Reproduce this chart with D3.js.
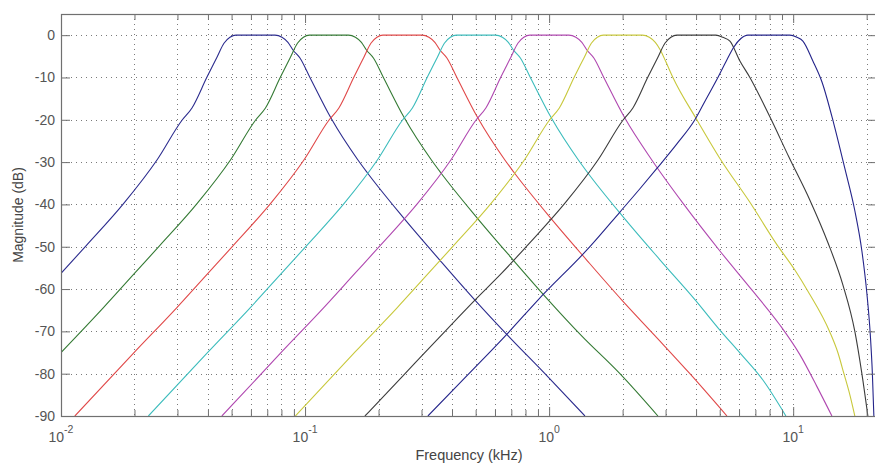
<!DOCTYPE html>
<html>
<head>
<meta charset="utf-8">
<script src="https://cdn.jsdelivr.net/npm/d3@7/dist/d3.min.js"></script>
<style>
  html, body { margin: 0; padding: 0; background: #fff; }
  svg { display: block; }
  text { font-family: "Liberation Sans", Arial, Helvetica, sans-serif; }
</style>
</head>
<body>
<svg id="chart" width="875" height="464"></svg>
<script>
// ---- data (frequency in kHz, magnitude in dB) ----
const band1 = [[0.01,-56.3],[0.01266,-49.8],[0.01811,-39.7],[0.02473,-29.5],[0.03131,-20.1],[0.03441,-17.2],[0.03964,-9.9],[0.04356,-5.2],[0.04653,-1.9],[0.04924,-0.5],[0.05211,0],[0.07528,0],[0.08042,-0.5],[0.0851,-1.7],[0.08922,-3.5],[0.09531,-5.4],[0.1047,-10],[0.1277,-19.6],[0.1647,-29.5],[0.1793,-32.4],[0.2518,-43],[0.357,-53.2],[0.4966,-62.6],[0.678,-71],[0.961,-80],[1.402,-90]];
const band2 = [[0.01,-75],[0.01486,-64.5],[0.02,-56.3],[0.02532,-49.8],[0.03622,-39.7],[0.04946,-29.5],[0.06262,-20.1],[0.06882,-17.2],[0.07928,-9.9],[0.08712,-5.2],[0.09306,-1.9],[0.09848,-0.5],[0.1042,0],[0.1506,0],[0.1608,-0.5],[0.1702,-1.7],[0.1784,-3.5],[0.1906,-5.4],[0.2094,-10],[0.2554,-19.6],[0.3294,-29.5],[0.3586,-32.4],[0.5036,-43],[0.714,-53.2],[0.993,-62.6],[1.356,-71],[1.95,-80],[2.791,-90]];
const band3 = [[0.0114,-90],[0.02009,-74.8],[0.02971,-64.5],[0.04,-56.3],[0.05064,-49.8],[0.07244,-39.7],[0.09892,-29.5],[0.1252,-20.1],[0.1376,-17.2],[0.1586,-9.9],[0.1742,-5.2],[0.1861,-1.9],[0.197,-0.5],[0.2084,0],[0.3011,0],[0.3217,-0.5],[0.3404,-1.7],[0.3569,-3.5],[0.3812,-5.4],[0.4188,-10],[0.5108,-19.6],[0.6588,-29.5],[0.7172,-32.4],[1.007,-43],[1.428,-53.2],[1.986,-62.6],[2.712,-71],[3.774,-80],[5.353,-90]];
const band4 = [[0.02281,-90],[0.04018,-74.8],[0.05942,-64.5],[0.08,-56.3],[0.1013,-49.8],[0.1449,-39.7],[0.1978,-29.5],[0.2505,-20.1],[0.2753,-17.2],[0.3171,-9.9],[0.3485,-5.2],[0.3722,-1.9],[0.3939,-0.5],[0.4169,0],[0.6022,0],[0.6434,-0.5],[0.6808,-1.7],[0.7138,-3.5],[0.7625,-5.4],[0.8376,-10],[1.022,-19.6],[1.318,-29.5],[1.434,-32.4],[2.014,-43],[2.856,-53.2],[3.973,-62.6],[5.009,-69.7],[6.049,-75.1],[7.514,-81.5],[9.335,-90]];
const band5 = [[0.04562,-90],[0.08037,-74.8],[0.1188,-64.5],[0.16,-56.3],[0.2026,-49.8],[0.2898,-39.7],[0.3957,-29.5],[0.501,-20.1],[0.5506,-17.2],[0.6342,-9.9],[0.697,-5.2],[0.7445,-1.9],[0.7878,-0.5],[0.8338,0],[1.204,0],[1.287,-0.5],[1.362,-1.7],[1.428,-3.5],[1.525,-5.4],[1.675,-10],[2.043,-19.6],[2.635,-29.5],[3.533,-39.7],[5.009,-51],[6.837,-60.5],[8.821,-68.5],[10.65,-75.5],[12.5,-83],[14.41,-90]];
const band6 = [[0.09124,-90],[0.1607,-74.8],[0.2377,-64.5],[0.32,-56.3],[0.4051,-49.8],[0.5795,-39.7],[0.7914,-29.5],[1.002,-20.1],[1.101,-17.2],[1.268,-9.9],[1.394,-5.2],[1.489,-1.9],[1.576,-0.5],[1.668,0],[2.409,0],[2.573,-0.5],[2.723,-1.7],[2.855,-3.5],[3.009,-6.3],[3.215,-10],[4.031,-20],[5.056,-29.5],[6.647,-39.5],[8.575,-49.5],[10.16,-55.5],[11.49,-60.5],[14.14,-70.2],[15.24,-75],[16.14,-80],[17.07,-85],[17.89,-90]];
const band7 = [[0.1759,-90],[0.2518,-80.5],[0.347,-72],[0.4966,-62.6],[0.6407,-56.2],[0.811,-49.8],[1.161,-39.7],[1.585,-29.5],[2.006,-20.1],[2.204,-17.2],[2.539,-9.9],[2.791,-5.2],[2.981,-1.9],[3.155,-0.5],[3.338,0],[4.824,0],[5.152,-0.5],[5.505,-1.4],[6.049,-6.1],[6.647,-10],[8.026,-19.3],[9.603,-28.8],[11.71,-39],[13.87,-49],[15.98,-59],[17.89,-70],[19.12,-80],[20.23,-90]];
const band8 = [[0.3187,-90],[0.4693,-80],[0.678,-70.4],[0.8998,-62.6],[1.469,-50],[1.95,-41.8],[2.355,-36.3],[2.764,-31.5],[3.338,-25.7],[3.956,-20],[4.389,-15.2],[4.915,-10],[5.353,-5.8],[5.715,-2.8],[6.106,-0.8],[6.523,0],[9.694,0],[10.36,-0.5],[10.96,-1.4],[12.04,-6.1],[13.11,-11],[14.68,-21],[16.28,-31.5],[17.89,-41.5],[19.12,-51],[20.04,-61],[20.71,-71],[21.11,-80],[21.41,-90]];

const bands = [band1, band2, band3, band4, band5, band6, band7, band8];
const bandColors = ["#2c2c8e", "#347a34", "#e04848", "#3cbcbc", "#b048b0", "#c8c83c", "#3c3c3c", "#24248a"];

const xDomain = [0.01, 22.05];
const yDomain = [-90, 5];
const majorFreqs = [0.01, 0.1, 1, 10];
const majorExponents = ["-2", "-1", "0", "1"];
const minorFreqs = [0.02,0.03,0.04,0.05,0.06,0.07,0.08,0.09,0.2,0.3,0.4,0.5,0.6,0.7,0.8,0.9,2,3,4,5,6,7,8,9,20];
const yTicks = [-90,-80,-70,-60,-50,-40,-30,-20,-10,0];
const xLabel = "Frequency (kHz)";
const yLabel = "Magnitude (dB)";

// ---- layout ----
const pL = 61, pR = 877, pT = 14, pB = 416;
const svg = d3.select("#chart");
const x = d3.scaleLog().domain(xDomain).range([pL, pR]);
const y = d3.scaleLinear().domain(yDomain).range([pB, pT]);

svg.append("rect").attr("width", 875).attr("height", 464).attr("fill", "#fff");

// grid
const grid = svg.append("g").attr("stroke", "#7a7a7a").attr("stroke-width", 1).attr("stroke-dasharray", "1,4");
grid.selectAll("line.v").data(majorFreqs.slice(1).concat(minorFreqs)).join("line")
  .attr("class", "v")
  .attr("x1", d => Math.round(x(d)) + 0.5).attr("x2", d => Math.round(x(d)) + 0.5)
  .attr("y1", pT).attr("y2", pB);
grid.selectAll("line.h").data(yTicks.slice(1)).join("line")
  .attr("class", "h")
  .attr("x1", pL).attr("x2", pR)
  .attr("y1", d => Math.round(y(d)) + 0.5).attr("y2", d => Math.round(y(d)) + 0.5);

// clip
svg.append("clipPath").attr("id", "clip").append("rect")
  .attr("x", pL).attr("y", pT).attr("width", pR - pL).attr("height", pB - pT);

const line = d3.line().x(d => x(d[0])).y(d => y(d[1])).curve(d3.curveMonotoneX);
svg.append("g").attr("clip-path", "url(#clip)")
  .selectAll("path").data(bands).join("path")
  .attr("d", line)
  .attr("fill", "none")
  .attr("stroke", (d, i) => bandColors[i])
  .attr("stroke-width", 1.1);

// axes (ticks pointing inward)
const axCol = "#707070";
function styleAxis(g) {
  g.select(".domain").remove();
  g.selectAll(".tick line").attr("stroke", axCol);
  g.selectAll(".tick text").remove();
}
svg.append("g").attr("transform", `translate(0,${pB})`)
  .call(d3.axisBottom(x).tickValues(majorFreqs).tickSize(-9).tickFormat("")).call(styleAxis);
svg.append("g").attr("transform", `translate(0,${pB})`)
  .call(d3.axisBottom(x).tickValues(minorFreqs).tickSize(-6).tickFormat("")).call(styleAxis);
svg.append("g").attr("transform", `translate(0,${pT})`)
  .call(d3.axisTop(x).tickValues(majorFreqs).tickSize(-9).tickFormat("")).call(styleAxis);
svg.append("g").attr("transform", `translate(0,${pT})`)
  .call(d3.axisTop(x).tickValues(minorFreqs).tickSize(-6).tickFormat("")).call(styleAxis);
svg.append("g").attr("transform", `translate(${pL},0)`)
  .call(d3.axisLeft(y).tickValues(yTicks).tickSize(-9).tickFormat("")).call(styleAxis);
svg.append("g").attr("transform", `translate(${pR},0)`)
  .call(d3.axisRight(y).tickValues(yTicks).tickSize(-9).tickFormat("")).call(styleAxis);

// box
svg.append("rect").attr("x", pL + 0.5).attr("y", pT + 0.5)
  .attr("width", pR - pL).attr("height", pB - pT)
  .attr("fill", "none").attr("stroke", axCol).attr("stroke-width", 1.2);

// tick labels
const txtCol = "#555";
svg.append("g").selectAll("text").data(yTicks).join("text")
  .attr("x", pL - 6).attr("y", d => y(d)).attr("dy", "0.35em")
  .attr("text-anchor", "end").attr("font-size", 14).attr("fill", txtCol)
  .text(d => d);

const xl = svg.append("g").selectAll("text").data(majorFreqs).join("text")
  .attr("x", d => x(d)).attr("y", 442)
  .attr("text-anchor", "middle").attr("font-size", 14).attr("fill", txtCol);
xl.append("tspan").text("10");
xl.append("tspan").attr("dy", -9).attr("font-size", 10.5).text((d, i) => majorExponents[i]);

// axis titles
svg.append("text").attr("x", (pL + pR) / 2).attr("y", 460)
  .attr("text-anchor", "middle").attr("font-size", 14.5).attr("fill", "#444").text(xLabel);
svg.append("text").attr("transform", `translate(18,${(pT + pB) / 2}) rotate(-90)`)
  .attr("text-anchor", "middle").attr("dy", "0.35em").attr("font-size", 14).attr("fill", "#444").text(yLabel);
</script>
</body>
</html>
